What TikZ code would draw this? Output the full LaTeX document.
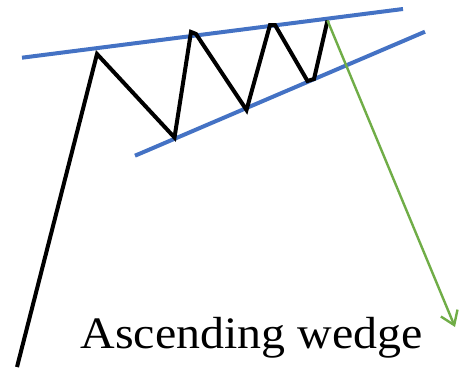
\documentclass[tikz,border=0pt]{standalone}
\usepackage{fontspec}
\setmainfont{Liberation Serif}
\usetikzlibrary{arrows.meta}
\definecolor{wblue}{RGB}{68,114,196}
\definecolor{wgreen}{RGB}{112,173,71}
\begin{document}
\begin{tikzpicture}[x=1pt,y=-1pt,
  trend/.style={draw=wblue,line width=4pt},
  price/.style={draw=black,line width=4pt,line join=miter},
  breakout/.style={draw=wgreen,line width=2.4pt,-{Straight Barb[length=13pt,width=18pt,line width=2.4pt]}}]
\useasboundingbox (0,0) rectangle (462,370);
\coordinate (u1) at (22,57.7);
\coordinate (u2) at (403,9);
\coordinate (l1) at (135,155.7);
\coordinate (l2) at (425,31.7);
\coordinate (s) at (17,367);
\coordinate (p1) at (97,54);
\coordinate (t1) at (174.5,137.5);
\coordinate (p2a) at (191,32);
\coordinate (p2b) at (196,34);
\coordinate (t2) at (246.5,110);
\coordinate (p3a) at (270,25);
\coordinate (p3b) at (275,25);
\coordinate (t3a) at (307.5,81);
\coordinate (t3b) at (314,79);
\coordinate (p4) at (327.5,20.5);
\coordinate (tip) at (455,327);
\draw[trend] (u1) -- (u2);
\draw[trend] (l1) -- (l2);
\draw[price] (s) -- (p1) -- (t1) -- (p2a) -- (p2b) -- (t2) -- (p3a) -- (p3b) -- (t3a) -- (t3b) -- (p4);
\draw[breakout] (p4) -- (tip);
\node[anchor=base,font=\fontsize{45}{52}\selectfont,inner sep=0pt,xscale=1.065] (lbl) at (251.7,348.3) {Ascending wedge};
\end{tikzpicture}
\end{document}
